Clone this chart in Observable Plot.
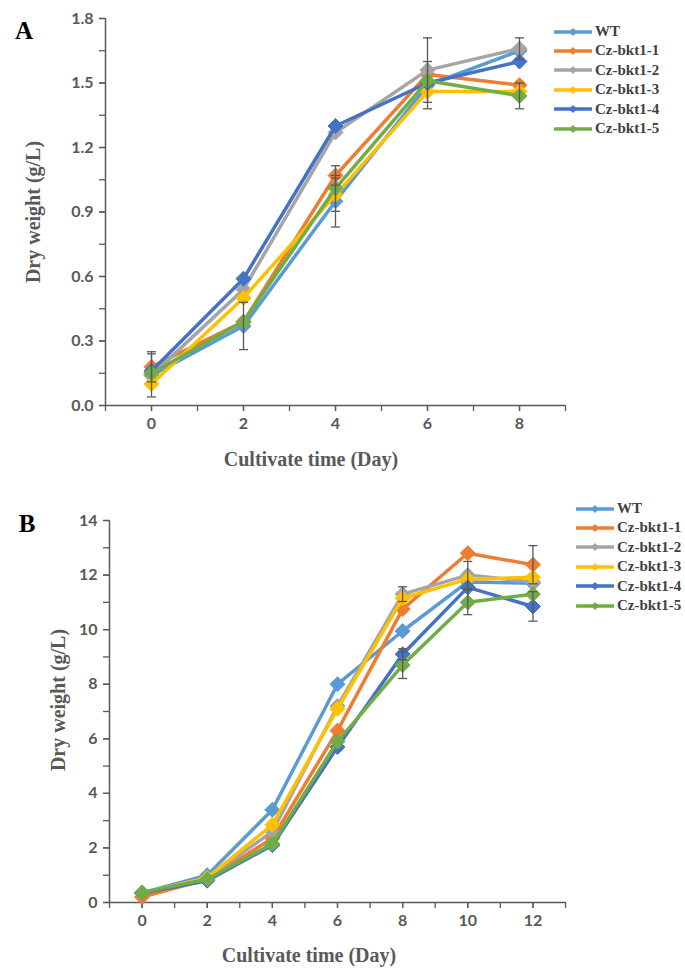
<!DOCTYPE html>
<html>
<head>
<meta charset="utf-8">
<script src="https://cdn.jsdelivr.net/npm/d3@7"></script>
<script src="https://cdn.jsdelivr.net/npm/@observablehq/plot@0.6"></script>
<style>
  html, body { margin: 0; padding: 0; background: #fff; }
  #wrap { position: relative; width: 685px; height: 970px; overflow: hidden; }
  .abs { position: absolute; white-space: nowrap; }
  .letter { font-family: "Liberation Serif", "DejaVu Serif", serif; font-weight: bold; font-size: 25px; color: #000; }
  .title { font-family: "Liberation Serif", "DejaVu Serif", serif; font-weight: bold; font-size: 20px; color: #595959; }
  .leg { font-family: "Liberation Serif", "DejaVu Serif", serif; font-weight: bold; font-size: 15px; color: #404040; display: flex; align-items: center; height: 19px; }
  .leg svg { margin-right: 3px; }
</style>
</head>
<body>
<div id="wrap"></div>
<script>
// ---------- data ----------
const series = ["WT", "Cz-bkt1-1", "Cz-bkt1-2", "Cz-bkt1-3", "Cz-bkt1-4", "Cz-bkt1-5"];
const colors = ["#5B9BD5", "#ED7D31", "#A5A5A5", "#FFC000", "#4472C4", "#70AD47"];

// Panel A
const daysA = [0, 2, 4, 6, 8];
const valuesA = [
  [0.14, 0.37, 0.95, 1.49, 1.65],
  [0.18, 0.39, 1.07, 1.54, 1.49],
  [0.14, 0.54, 1.27, 1.56, 1.66],
  [0.10, 0.50, 0.98, 1.46, 1.46],
  [0.16, 0.59, 1.30, 1.50, 1.60],
  [0.15, 0.39, 1.01, 1.51, 1.44]
];
const errorsA = [
  [0.10, 0.11, 0.12, 0.11, 0.00],
  [0.07, 0.00, 0.045, 0.00, 0.00],
  [0.00, 0.00, 0.00, 0.15, 0.05],
  [0.00, 0.00, 0.077, 0.00, 0.00],
  [0.00, 0.00, 0.00, 0.00, 0.00],
  [0.00, 0.00, 0.00, 0.00, 0.06]
];
const yTicksA = [0, 0.3, 0.6, 0.9, 1.2, 1.5, 1.8];
const xTicksA = [0, 2, 4, 6, 8];

// Panel B
const daysB = [0, 2, 4, 6, 8, 10, 12];
const valuesB = [
  [0.35, 1.00, 3.40, 8.00, 9.95, 11.75, 11.70],
  [0.20, 0.85, 2.35, 6.30, 10.75, 12.80, 12.38],
  [0.35, 0.90, 2.60, 7.20, 11.30, 12.00, 11.75],
  [0.35, 0.90, 2.85, 7.10, 11.15, 11.85, 11.92],
  [0.35, 0.80, 2.10, 5.70, 9.10, 11.55, 10.85],
  [0.37, 0.85, 2.15, 5.90, 8.70, 11.00, 11.30]
];
const errorsB = [
  [0, 0, 0, 0, 0, 0, 0],
  [0, 0, 0, 0, 0, 0, 0.70],
  [0, 0, 0, 0, 0.27, 0.50, 0],
  [0, 0, 0, 0, 0, 0, 0],
  [0, 0, 0, 0, 0.20, 0, 0.54],
  [0, 0, 0, 0, 0.49, 0.45, 0]
];
const yTicksB = [0, 2, 4, 6, 8, 10, 12, 14];
const xTicksB = [0, 2, 4, 6, 8, 10, 12];

const yLabel = "Dry weight (g/L)";
const xLabel = "Cultivate time (Day)";

// ---------- helpers ----------
const diamond = { draw(ctx, size) { const r = Math.sqrt(size / Math.PI); ctx.moveTo(0, -r); ctx.lineTo(r, 0); ctx.lineTo(0, r); ctx.lineTo(-r, 0); ctx.closePath(); } };
const hline = { draw(ctx, size) { const r = Math.sqrt(size / Math.PI); ctx.moveTo(-r, 0); ctx.lineTo(r, 0); } };
const axisColor = "#595959";

function rows(days, values, errors) {
  const out = [];
  series.forEach((s, i) => days.forEach((d, j) => out.push({ series: s, day: d, value: values[i][j], err: errors[i][j] })));
  return out;
}

function panel({ days, values, errors, xDomain, yDomain, xTicks, yTicks, xMinor, yMinor, fmt, marginLeft, marginTop, marginBottom, marginRight, height }) {
  const data = rows(days, values, errors);
  const marks = [
    Plot.axisY({ ticks: yMinor, tickSize: 6, tickFormat: () => "", stroke: axisColor, strokeWidth: 1.3, label: null }),
    Plot.axisY({ ticks: yTicks, tickSize: 6, tickPadding: 6, tickFormat: fmt, stroke: axisColor, strokeWidth: 1.3, fill: axisColor, label: null }),
    Plot.axisX({ ticks: xMinor, tickSize: 6, tickFormat: () => "", stroke: axisColor, strokeWidth: 1.3, label: null }),
    Plot.axisX({ ticks: xTicks, tickSize: 6, tickPadding: 6, tickFormat: d => String(d), stroke: axisColor, strokeWidth: 1.3, fill: axisColor, label: null }),
    Plot.ruleX([xDomain[0]], { stroke: axisColor, strokeWidth: 1.5 }),
    Plot.ruleY([yDomain[0]], { stroke: axisColor, strokeWidth: 1.5 })
  ];
  series.forEach(s => {
    const d = data.filter(r => r.series === s);
    marks.push(Plot.line(d, { x: "day", y: "value", stroke: "series", strokeWidth: 3.5, strokeLinejoin: "round", curve: "linear" }));
    marks.push(Plot.dot(d, { x: "day", y: "value", fill: "series", stroke: "series", strokeWidth: 1, r: 7.5, symbol: diamond }));
  });
  const eb = data.filter(r => r.err > 0);
  marks.push(Plot.ruleX(eb, { x: "day", y1: r => r.value - r.err, y2: r => r.value + r.err, stroke: axisColor, strokeWidth: 1.3 }));
  marks.push(Plot.dot(eb, { x: "day", y: r => r.value - r.err, r: 4.5, symbol: hline, fill: "none", stroke: axisColor, strokeWidth: 1.3 }));
  marks.push(Plot.dot(eb, { x: "day", y: r => r.value + r.err, r: 4.5, symbol: hline, fill: "none", stroke: axisColor, strokeWidth: 1.3 }));
  return Plot.plot({
    width: 580, height, marginLeft, marginRight, marginTop, marginBottom,
    x: { domain: xDomain, axis: null, label: null },
    y: { domain: yDomain, axis: null, label: null },
    color: { domain: series, range: colors },
    style: { fontFamily: "Lato, 'Open Sans', sans-serif", fontWeight: "bold", fontSize: "16px", color: axisColor, background: "transparent", overflow: "visible" },
    marks
  });
}

function range(a, b, step) { const out = []; for (let i = 0; a + i * step <= b + 1e-9; i++) out.push(+(a + i * step).toFixed(4)); return out; }

const wrap = document.getElementById("wrap");

function place(el, left, top) { el.style.position = "absolute"; el.style.left = left + "px"; el.style.top = top + "px"; wrap.appendChild(el); }

function text(cls, str, cx, cy, rotate) {
  const d = document.createElement("div");
  d.className = "abs " + cls;
  d.textContent = str;
  d.style.left = cx + "px"; d.style.top = cy + "px";
  d.style.transform = "translate(-50%, -50%)" + (rotate ? " rotate(-90deg)" : "");
  wrap.appendChild(d);
}

function legend(left, top) {
  series.forEach((s, i) => {
    const row = document.createElement("div");
    row.className = "abs leg";
    row.style.left = left + "px"; row.style.top = (top + i * 19.4) + "px";
    const ns = "http://www.w3.org/2000/svg";
    const svg = document.createElementNS(ns, "svg");
    svg.setAttribute("width", 38); svg.setAttribute("height", 10);
    const ln = document.createElementNS(ns, "line");
    ln.setAttribute("x1", 1); ln.setAttribute("x2", 37); ln.setAttribute("y1", 5); ln.setAttribute("y2", 5);
    ln.setAttribute("stroke", colors[i]); ln.setAttribute("stroke-width", 3.5); ln.setAttribute("stroke-linecap", "round");
    const dm = document.createElementNS(ns, "path");
    dm.setAttribute("d", "M19,1 L23,5 L19,9 L15,5 Z"); dm.setAttribute("fill", colors[i]);
    svg.appendChild(ln); svg.appendChild(dm);
    row.appendChild(svg);
    const t = document.createElement("span"); t.textContent = s; row.appendChild(t);
    wrap.appendChild(row);
  });
}

// Panel A
const pA = panel({
  days: daysA, values: valuesA, errors: errorsA,
  xDomain: [-1, 9], yDomain: [0, 1.8],
  xTicks: xTicksA, yTicks: yTicksA, xMinor: range(-1, 9, 1), yMinor: range(0, 1.8, 0.15),
  fmt: d => d.toFixed(1),
  marginLeft: 105, marginRight: 15, marginTop: 18, marginBottom: 75, height: 480
});
place(pA, 0, 0);

// Panel B
const pB = panel({
  days: daysB, values: valuesB, errors: errorsB,
  xDomain: [-1, 13], yDomain: [0, 14],
  xTicks: xTicksB, yTicks: yTicksB, xMinor: range(-1, 13, 1), yMinor: range(0, 14, 1),
  fmt: d => String(d),
  marginLeft: 109, marginRight: 15, marginTop: 20, marginBottom: 68, height: 470
});
place(pB, 0, 500);

// Labels
text("letter", "A", 24, 31, false);
text("letter", "B", 27, 524, false);
text("title", yLabel, 33, 212, true);
text("title", xLabel, 311, 459, false);
text("title", yLabel, 58, 700, true);
text("title", xLabel, 309, 955, false);

legend(554, 22);
legend(576, 499);
</script>
</body>
</html>
